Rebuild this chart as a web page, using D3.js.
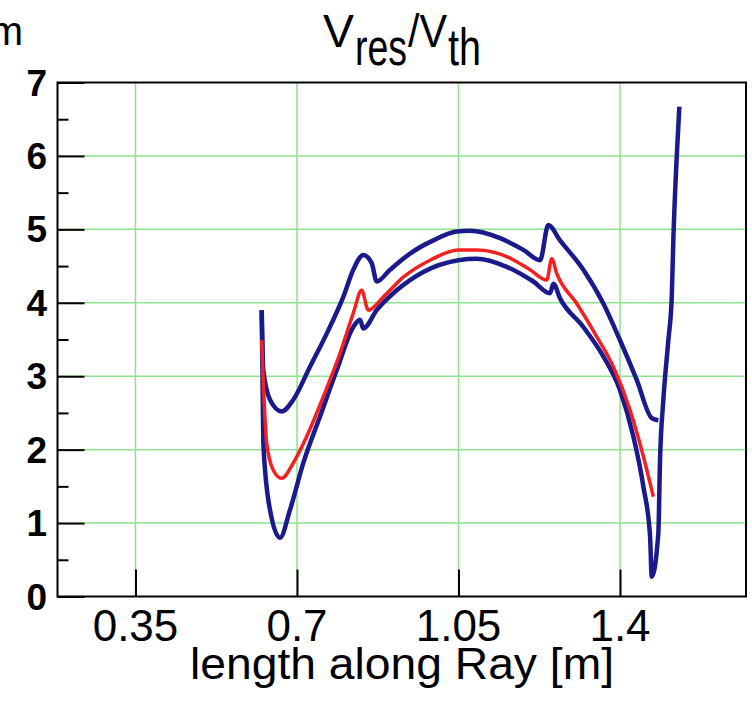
<!DOCTYPE html>
<html>
<head>
<meta charset="utf-8">
<script src="https://cdn.jsdelivr.net/npm/d3@7"></script>
<style>
  html, body { margin: 0; padding: 0; background: #fff; }
  svg { display: block; font-family: "Liberation Sans", Arial, sans-serif; }
</style>
</head>
<body>
<svg id="chart" width="752" height="702"></svg>
<script>
// Ray path length [m] and velocity ratio along the ray
const upperX = [0.6235, 0.627, 0.6415, 0.6668, 0.692, 0.7282, 0.7644, 0.8003, 0.822, 0.8437, 0.8619, 0.8727, 0.9016, 0.9449, 0.9954, 1.0461, 1.0749, 1.14, 1.1905, 1.2267, 1.2446, 1.27, 1.3205, 1.3638, 1.4, 1.4362, 1.4687, 1.483];
const upperY = [3.90, 3.08, 2.68, 2.52, 2.68, 3.13, 3.58, 4.08, 4.45, 4.65, 4.54, 4.29, 4.45, 4.67, 4.85, 4.97, 4.98, 4.88, 4.72, 4.58, 5.06, 4.85, 4.45, 3.99, 3.49, 2.95, 2.43, 2.40];

const midX = [0.6235, 0.6343, 0.6486, 0.6668, 0.692, 0.721, 0.757, 0.7932, 0.822, 0.8402, 0.8545, 0.887, 0.9304, 0.9883, 1.0496, 1.0895, 1.1545, 1.205, 1.2412, 1.252, 1.2628, 1.3062, 1.3495, 1.3855, 1.4217, 1.4505, 1.4722];
const midY = [3.49, 2.09, 1.72, 1.61, 1.82, 2.18, 2.72, 3.31, 3.86, 4.17, 3.90, 4.08, 4.35, 4.58, 4.72, 4.72, 4.63, 4.45, 4.31, 4.60, 4.40, 3.99, 3.54, 3.13, 2.54, 1.91, 1.36];

const lowerX = [0.6235, 0.627, 0.6415, 0.6632, 0.6848, 0.7137, 0.7498, 0.786, 0.822, 0.8365, 0.8437, 0.8727, 0.9161, 0.9737, 1.0496, 1.0895, 1.1545, 1.2121, 1.2483, 1.2555, 1.27, 1.3205, 1.3638, 1.4, 1.4289, 1.4505, 1.4651, 1.4687, 1.483, 1.4867, 1.4939, 1.5047, 1.5121, 1.5155, 1.5229, 1.5286];
const lowerY = [3.90, 2.09, 1.18, 0.80, 1.18, 1.82, 2.45, 3.08, 3.67, 3.77, 3.65, 3.90, 4.17, 4.42, 4.58, 4.60, 4.49, 4.29, 4.13, 4.26, 4.06, 3.67, 3.27, 2.81, 2.18, 1.50, 0.82, 0.27, 0.86, 1.86, 2.68, 3.49, 4.08, 4.85, 5.99, 6.67];

const xTicks = [0.35, 0.7, 1.05, 1.4];
const xTickLabels = ["0.35", "0.7", "1.05", "1.4"];
const yTicks = [0, 1, 2, 3, 4, 5, 6, 7];
const yMinorTicks = [0.5, 1.5, 2.5, 3.5, 4.5, 5.5, 6.5];

const svg = d3.select("#chart");
const plotL = 57.5, plotR = 746, plotT = 82.5, plotB = 596.5;

const x = d3.scaleLinear().domain([0.181, 1.673]).range([plotL, plotR]);
const y = d3.scaleLinear().domain([0, 7]).range([plotB, plotT]);

// grid
const grid = svg.append("g").attr("stroke", "#8fe28f").attr("stroke-width", 1.5);
grid.selectAll("line.gx").data(xTicks).join("line")
  .attr("x1", d => x(d)).attr("x2", d => x(d))
  .attr("y1", plotT).attr("y2", plotB);
grid.selectAll("line.gy").data(yTicks.filter(v => v > 0 && v < 7)).join("line")
  .attr("x1", plotL).attr("x2", plotR)
  .attr("y1", d => y(d)).attr("y2", d => y(d));

// axes: inward ticks, labels drawn separately
const yAxis = d3.axisLeft(y).tickValues(yTicks).tickSize(-27).tickFormat("");
svg.append("g").attr("transform", `translate(${plotL},0)`).call(yAxis)
  .call(g => g.select(".domain").remove())
  .call(g => g.selectAll("line").attr("stroke", "#000").attr("stroke-width", 2));
const yMinor = d3.axisLeft(y).tickValues(yMinorTicks).tickSize(-11).tickFormat("");
svg.append("g").attr("transform", `translate(${plotL},0)`).call(yMinor)
  .call(g => g.select(".domain").remove())
  .call(g => g.selectAll("line").attr("stroke", "#000").attr("stroke-width", 2));
const xAxis = d3.axisBottom(x).tickValues(xTicks).tickSize(-27).tickFormat("");
svg.append("g").attr("transform", `translate(0,${plotB})`).call(xAxis)
  .call(g => g.select(".domain").remove())
  .call(g => g.selectAll("line").attr("stroke", "#000").attr("stroke-width", 2));

// curves
const line = d3.line().x(d => x(d[0])).y(d => y(d[1])).curve(d3.curveMonotoneX);
const series = [
  { xs: upperX, ys: upperY, color: "#1a1a8c", w: 4.5 },
  { xs: lowerX, ys: lowerY, color: "#1a1a8c", w: 4.5 },
  { xs: midX, ys: midY, color: "#f42020", w: 3.5 }
];
svg.append("g").selectAll("path").data(series).join("path")
  .attr("d", s => line(s.xs.map((v, i) => [v, s.ys[i]])))
  .attr("fill", "none")
  .attr("stroke", s => s.color)
  .attr("stroke-width", s => s.w)
  .attr("stroke-linejoin", "round");

// frame
svg.append("rect").attr("x", plotL).attr("y", plotT)
  .attr("width", plotR - plotL).attr("height", plotB - plotT)
  .attr("fill", "none").attr("stroke", "#000").attr("stroke-width", 2);

// tick labels
svg.append("g").selectAll("text").data(yTicks).join("text")
  .attr("x", 47).attr("y", d => y(d) + 13)
  .attr("text-anchor", "end").attr("font-size", 37).attr("font-weight", "bold")
  .text(d => d);
svg.append("g").selectAll("text").data(xTicks).join("text")
  .attr("x", d => x(d)).attr("y", 641)
  .attr("text-anchor", "middle").attr("font-size", 44)
  .text((d, i) => xTickLabels[i]);

// axis title
svg.append("text").attr("x", 402).attr("y", 679)
  .attr("text-anchor", "middle").attr("font-size", 44)
  .attr("textLength", 424).attr("lengthAdjust", "spacingAndGlyphs")
  .text("length along Ray [m]");

// chart title: V_res / V_th, subscripts tall and narrow
const titleParts = [
  { t: "V", x0: 323, base: 47, fs: 46, len: 31 },
  { t: "res", x0: 355, base: 65, fs: 52, len: 52 },
  { t: "/V", x0: 408, base: 47, fs: 46, len: 39 },
  { t: "th", x0: 448, base: 65, fs: 52, len: 33 }
];
svg.append("g").selectAll("text").data(titleParts).join("text")
  .attr("x", d => d.x0).attr("y", d => d.base)
  .attr("font-size", d => d.fs)
  .attr("textLength", d => d.len).attr("lengthAdjust", "spacingAndGlyphs")
  .text(d => d.t);

// fragment of a neighbouring label
svg.append("text").attr("x", 23).attr("y", 45)
  .attr("text-anchor", "end").attr("font-size", 40).text("m");
</script>
</body>
</html>
